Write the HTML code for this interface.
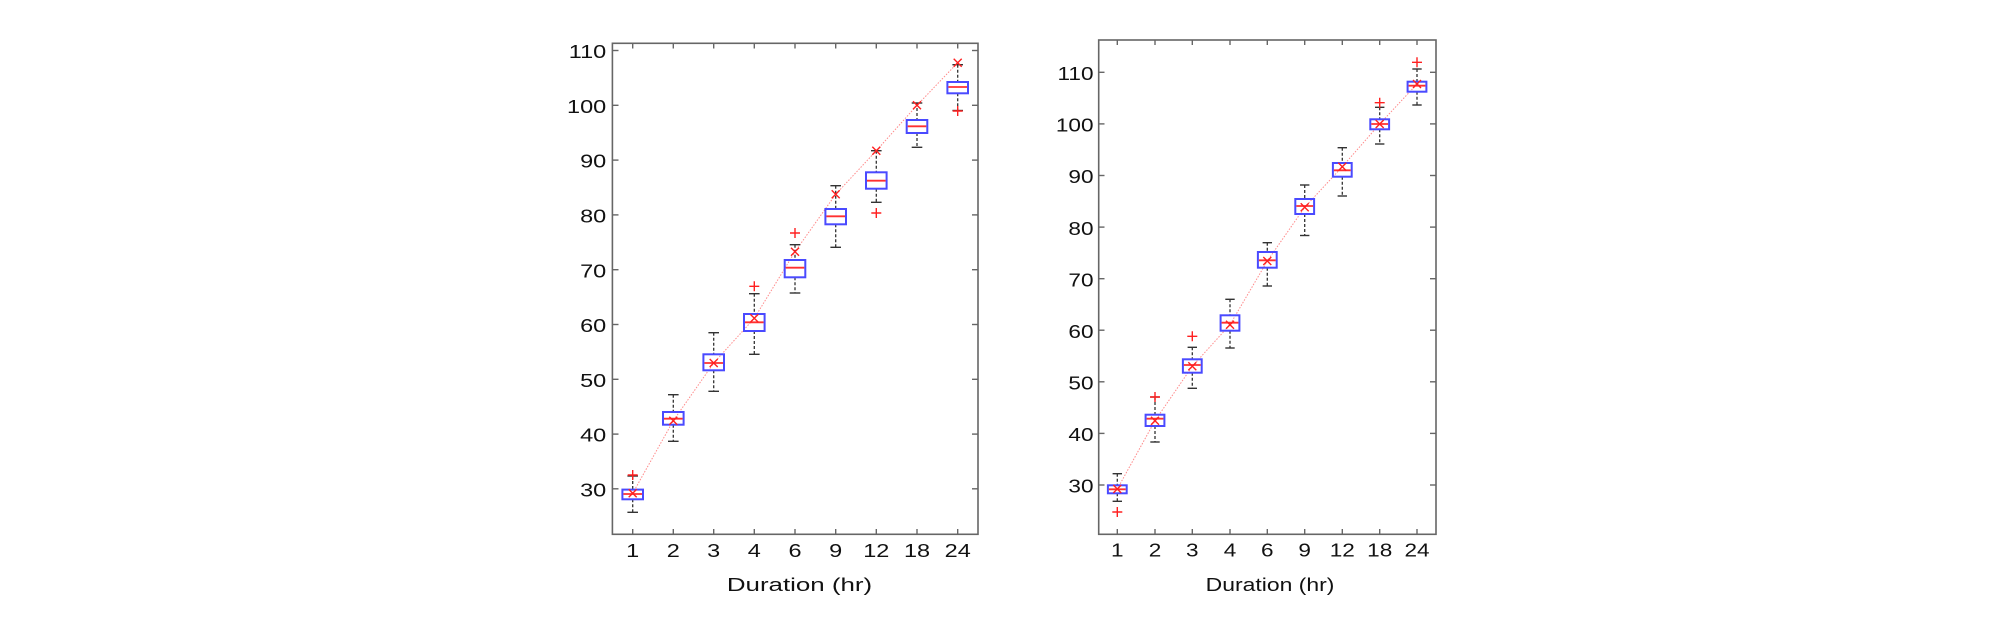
<!DOCTYPE html>
<html><head><meta charset="utf-8"><style>
html,body{margin:0;padding:0;background:#fff;}
svg{display:block;}
text{font-family:"Liberation Sans",Arial,sans-serif;font-size:18.5px;fill:#111;}
.ax{fill:none;stroke:#666;stroke-width:1.6;}
.tk{stroke:#666;stroke-width:1.4;}
.bx{fill:none;stroke:#4a4aff;stroke-width:2;}
.md{stroke:#ff3030;stroke-width:1.8;}
.wh{stroke:#333;stroke-width:1.3;stroke-dasharray:3,2;}
.cp{stroke:#333;stroke-width:1.4;}
.mk{stroke:#ff2020;stroke-width:1.4;fill:none;}
.ln{fill:none;stroke:#ff8a8a;stroke-width:1;stroke-dasharray:1.5,1.5;}
</style></head><body>
<svg width="2008" height="618" viewBox="0 0 2008 618" xmlns="http://www.w3.org/2000/svg">
<rect width="2008" height="618" fill="#fff"/>

<!-- LEFT PLOT -->
<g>
<rect class="ax" x="612.4" y="43.3" width="365.6" height="491"/>
<g class="tk">
<line x1="612.4" y1="50.5" x2="618.5" y2="50.5"/><line x1="978" y1="50.5" x2="972" y2="50.5"/>
<line x1="612.4" y1="105.3" x2="618.5" y2="105.3"/><line x1="978" y1="105.3" x2="972" y2="105.3"/>
<line x1="612.4" y1="160.1" x2="618.5" y2="160.1"/><line x1="978" y1="160.1" x2="972" y2="160.1"/>
<line x1="612.4" y1="214.9" x2="618.5" y2="214.9"/><line x1="978" y1="214.9" x2="972" y2="214.9"/>
<line x1="612.4" y1="269.7" x2="618.5" y2="269.7"/><line x1="978" y1="269.7" x2="972" y2="269.7"/>
<line x1="612.4" y1="324.5" x2="618.5" y2="324.5"/><line x1="978" y1="324.5" x2="972" y2="324.5"/>
<line x1="612.4" y1="379.3" x2="618.5" y2="379.3"/><line x1="978" y1="379.3" x2="972" y2="379.3"/>
<line x1="612.4" y1="434.1" x2="618.5" y2="434.1"/><line x1="978" y1="434.1" x2="972" y2="434.1"/>
<line x1="612.4" y1="488.8" x2="618.5" y2="488.8"/><line x1="978" y1="488.8" x2="972" y2="488.8"/>
<line x1="632.7" y1="534.3" x2="632.7" y2="529"/><line x1="632.7" y1="43.3" x2="632.7" y2="48.5"/>
<line x1="673.3" y1="534.3" x2="673.3" y2="529"/><line x1="673.3" y1="43.3" x2="673.3" y2="48.5"/>
<line x1="713.7" y1="534.3" x2="713.7" y2="529"/><line x1="713.7" y1="43.3" x2="713.7" y2="48.5"/>
<line x1="754.3" y1="534.3" x2="754.3" y2="529"/><line x1="754.3" y1="43.3" x2="754.3" y2="48.5"/>
<line x1="795" y1="534.3" x2="795" y2="529"/><line x1="795" y1="43.3" x2="795" y2="48.5"/>
<line x1="835.7" y1="534.3" x2="835.7" y2="529"/><line x1="835.7" y1="43.3" x2="835.7" y2="48.5"/>
<line x1="876.3" y1="534.3" x2="876.3" y2="529"/><line x1="876.3" y1="43.3" x2="876.3" y2="48.5"/>
<line x1="917" y1="534.3" x2="917" y2="529"/><line x1="917" y1="43.3" x2="917" y2="48.5"/>
<line x1="957.7" y1="534.3" x2="957.7" y2="529"/><line x1="957.7" y1="43.3" x2="957.7" y2="48.5"/>
</g>
<g text-anchor="end">
<text transform="translate(606.2,58.1) scale(1.27,1)">110</text>
<text transform="translate(606.2,112.9) scale(1.27,1)">100</text>
<text transform="translate(606.2,167.7) scale(1.27,1)">90</text>
<text transform="translate(606.2,222.5) scale(1.27,1)">80</text>
<text transform="translate(606.2,277.3) scale(1.27,1)">70</text>
<text transform="translate(606.2,332.1) scale(1.27,1)">60</text>
<text transform="translate(606.2,386.9) scale(1.27,1)">50</text>
<text transform="translate(606.2,441.7) scale(1.27,1)">40</text>
<text transform="translate(606.2,496.4) scale(1.27,1)">30</text>
</g>
<g text-anchor="middle">
<text transform="translate(632.7,557) scale(1.27,1)">1</text>
<text transform="translate(673.3,557) scale(1.27,1)">2</text>
<text transform="translate(713.7,557) scale(1.27,1)">3</text>
<text transform="translate(754.3,557) scale(1.27,1)">4</text>
<text transform="translate(795,557) scale(1.27,1)">6</text>
<text transform="translate(835.7,557) scale(1.27,1)">9</text>
<text transform="translate(876.3,557) scale(1.27,1)">12</text>
<text transform="translate(917,557) scale(1.27,1)">18</text>
<text transform="translate(957.7,557) scale(1.27,1)">24</text>
<text transform="translate(799.5,591) scale(1.4,1)">Duration (hr)</text>
</g>
<polyline class="ln" points="632.7,493.3 673.3,420.7 713.7,363 754.3,318.3 795,251.7 835.7,194.3 876.3,150.7 917,105.3 957.7,62.7"/>
<g class="wh">
<line x1="632.7" y1="476" x2="632.7" y2="489.6"/><line x1="632.7" y1="499.3" x2="632.7" y2="512.3"/>
<line x1="673.3" y1="394.7" x2="673.3" y2="412"/><line x1="673.3" y1="424.7" x2="673.3" y2="441.3"/>
<line x1="713.7" y1="332.7" x2="713.7" y2="354.3"/><line x1="713.7" y1="370.3" x2="713.7" y2="391.3"/>
<line x1="754.3" y1="293.7" x2="754.3" y2="314"/><line x1="754.3" y1="331" x2="754.3" y2="354.3"/>
<line x1="795" y1="244.7" x2="795" y2="260"/><line x1="795" y1="277.3" x2="795" y2="293"/>
<line x1="835.7" y1="185.7" x2="835.7" y2="209"/><line x1="835.7" y1="224.3" x2="835.7" y2="247.3"/>
<line x1="876.3" y1="150.7" x2="876.3" y2="172.3"/><line x1="876.3" y1="188.7" x2="876.3" y2="202.3"/>
<line x1="917" y1="103" x2="917" y2="120"/><line x1="917" y1="133" x2="917" y2="147.3"/>
<line x1="957.7" y1="64.7" x2="957.7" y2="82"/><line x1="957.7" y1="93.3" x2="957.7" y2="110.5"/>
</g>
<g class="cp">
<line x1="627.4" y1="476" x2="638" y2="476"/><line x1="627.4" y1="512.3" x2="638" y2="512.3"/>
<line x1="668" y1="394.7" x2="678.6" y2="394.7"/><line x1="668" y1="441.3" x2="678.6" y2="441.3"/>
<line x1="708.4" y1="332.7" x2="719" y2="332.7"/><line x1="708.4" y1="391.3" x2="719" y2="391.3"/>
<line x1="749" y1="293.7" x2="759.6" y2="293.7"/><line x1="749" y1="354.3" x2="759.6" y2="354.3"/>
<line x1="789.7" y1="244.7" x2="800.3" y2="244.7"/><line x1="789.7" y1="293" x2="800.3" y2="293"/>
<line x1="830.4" y1="185.7" x2="841" y2="185.7"/><line x1="830.4" y1="247.3" x2="841" y2="247.3"/>
<line x1="871" y1="150.7" x2="881.6" y2="150.7"/><line x1="871" y1="202.3" x2="881.6" y2="202.3"/>
<line x1="911.7" y1="103" x2="922.3" y2="103"/><line x1="911.7" y1="147.3" x2="922.3" y2="147.3"/>
<line x1="952.4" y1="64.7" x2="963" y2="64.7"/><line x1="952.4" y1="110.5" x2="963" y2="110.5"/>
</g>
<g class="bx">
<rect x="622.4" y="489.6" width="20.6" height="9.7"/>
<rect x="663" y="412" width="20.6" height="12.7"/>
<rect x="703.4" y="354.3" width="20.6" height="16"/>
<rect x="744" y="314" width="20.6" height="17"/>
<rect x="784.7" y="260" width="20.6" height="17.3"/>
<rect x="825.4" y="209" width="20.6" height="15.3"/>
<rect x="866" y="172.3" width="20.6" height="16.4"/>
<rect x="906.7" y="120" width="20.6" height="13"/>
<rect x="947.4" y="82" width="20.6" height="11.3"/>
</g>
<g class="md">
<line x1="623.4" y1="494" x2="642" y2="494"/>
<line x1="664" y1="418.7" x2="682.6" y2="418.7"/>
<line x1="704.4" y1="363" x2="723" y2="363"/>
<line x1="745" y1="322.3" x2="763.6" y2="322.3"/>
<line x1="785.7" y1="267.7" x2="804.3" y2="267.7"/>
<line x1="826.4" y1="216.3" x2="845" y2="216.3"/>
<line x1="867" y1="180.7" x2="885.6" y2="180.7"/>
<line x1="907.7" y1="126.3" x2="926.3" y2="126.3"/>
<line x1="948.4" y1="87" x2="967" y2="87"/>
</g>
<path class="mk" d="M628.7,489.3l8,8m-8,0l8,-8 M669.3,416.7l8,8m-8,0l8,-8 M709.7,359l8,8m-8,0l8,-8 M750.3,314.3l8,8m-8,0l8,-8 M791,247.7l8,8m-8,0l8,-8 M831.7,190.3l8,8m-8,0l8,-8 M872.3,146.7l8,8m-8,0l8,-8 M913,101.3l8,8m-8,0l8,-8 M953.7,58.7l8,8m-8,0l8,-8"/>
<path class="mk" d="M627.7,475h10m-5,-5v10 M749.3,286.3h10m-5,-5v10 M790,233h10m-5,-5v10 M871.3,213h10m-5,-5v10 M952.7,111h10m-5,-5v10"/>
</g>

<!-- RIGHT PLOT -->
<g>
<rect class="ax" x="1098.7" y="40" width="337.3" height="494.3"/>
<g class="tk">
<line x1="1098.7" y1="72.3" x2="1104.5" y2="72.3"/><line x1="1436" y1="72.3" x2="1430" y2="72.3"/>
<line x1="1098.7" y1="123.9" x2="1104.5" y2="123.9"/><line x1="1436" y1="123.9" x2="1430" y2="123.9"/>
<line x1="1098.7" y1="175.5" x2="1104.5" y2="175.5"/><line x1="1436" y1="175.5" x2="1430" y2="175.5"/>
<line x1="1098.7" y1="227.1" x2="1104.5" y2="227.1"/><line x1="1436" y1="227.1" x2="1430" y2="227.1"/>
<line x1="1098.7" y1="278.7" x2="1104.5" y2="278.7"/><line x1="1436" y1="278.7" x2="1430" y2="278.7"/>
<line x1="1098.7" y1="330.2" x2="1104.5" y2="330.2"/><line x1="1436" y1="330.2" x2="1430" y2="330.2"/>
<line x1="1098.7" y1="381.8" x2="1104.5" y2="381.8"/><line x1="1436" y1="381.8" x2="1430" y2="381.8"/>
<line x1="1098.7" y1="433.4" x2="1104.5" y2="433.4"/><line x1="1436" y1="433.4" x2="1430" y2="433.4"/>
<line x1="1098.7" y1="485" x2="1104.5" y2="485"/><line x1="1436" y1="485" x2="1430" y2="485"/>
<line x1="1117.3" y1="534.3" x2="1117.3" y2="529"/><line x1="1117.3" y1="40" x2="1117.3" y2="45"/>
<line x1="1155" y1="534.3" x2="1155" y2="529"/><line x1="1155" y1="40" x2="1155" y2="45"/>
<line x1="1192.3" y1="534.3" x2="1192.3" y2="529"/><line x1="1192.3" y1="40" x2="1192.3" y2="45"/>
<line x1="1230" y1="534.3" x2="1230" y2="529"/><line x1="1230" y1="40" x2="1230" y2="45"/>
<line x1="1267.3" y1="534.3" x2="1267.3" y2="529"/><line x1="1267.3" y1="40" x2="1267.3" y2="45"/>
<line x1="1304.7" y1="534.3" x2="1304.7" y2="529"/><line x1="1304.7" y1="40" x2="1304.7" y2="45"/>
<line x1="1342.3" y1="534.3" x2="1342.3" y2="529"/><line x1="1342.3" y1="40" x2="1342.3" y2="45"/>
<line x1="1379.7" y1="534.3" x2="1379.7" y2="529"/><line x1="1379.7" y1="40" x2="1379.7" y2="45"/>
<line x1="1417" y1="534.3" x2="1417" y2="529"/><line x1="1417" y1="40" x2="1417" y2="45"/>
</g>
<g text-anchor="end">
<text transform="translate(1093.5,80) scale(1.22,1)">110</text>
<text transform="translate(1093.5,131.6) scale(1.22,1)">100</text>
<text transform="translate(1093.5,183.2) scale(1.22,1)">90</text>
<text transform="translate(1093.5,234.8) scale(1.22,1)">80</text>
<text transform="translate(1093.5,286.4) scale(1.22,1)">70</text>
<text transform="translate(1093.5,337.9) scale(1.22,1)">60</text>
<text transform="translate(1093.5,389.5) scale(1.22,1)">50</text>
<text transform="translate(1093.5,441.1) scale(1.22,1)">40</text>
<text transform="translate(1093.5,492.7) scale(1.22,1)">30</text>
</g>
<g text-anchor="middle">
<text transform="translate(1117.3,556.5) scale(1.22,1)">1</text>
<text transform="translate(1155,556.5) scale(1.22,1)">2</text>
<text transform="translate(1192.3,556.5) scale(1.22,1)">3</text>
<text transform="translate(1230,556.5) scale(1.22,1)">4</text>
<text transform="translate(1267.3,556.5) scale(1.22,1)">6</text>
<text transform="translate(1304.7,556.5) scale(1.22,1)">9</text>
<text transform="translate(1342.3,556.5) scale(1.22,1)">12</text>
<text transform="translate(1379.7,556.5) scale(1.22,1)">18</text>
<text transform="translate(1417,556.5) scale(1.22,1)">24</text>
<text transform="translate(1270,591) scale(1.24,1)">Duration (hr)</text>
</g>
<polyline class="ln" points="1117.3,489 1155,420.7 1192.3,366.3 1230,324.7 1267.3,261 1304.7,207.3 1342.3,166.7 1379.7,124 1417,84"/>
<g class="wh">
<line x1="1117.3" y1="473.7" x2="1117.3" y2="485.3"/><line x1="1117.3" y1="493.3" x2="1117.3" y2="501.3"/>
<line x1="1155" y1="397" x2="1155" y2="414.7"/><line x1="1155" y1="426" x2="1155" y2="442"/>
<line x1="1192.3" y1="347.3" x2="1192.3" y2="359.3"/><line x1="1192.3" y1="372.7" x2="1192.3" y2="388.3"/>
<line x1="1230" y1="299.3" x2="1230" y2="315.3"/><line x1="1230" y1="330.7" x2="1230" y2="348"/>
<line x1="1267.3" y1="242.7" x2="1267.3" y2="252"/><line x1="1267.3" y1="267.7" x2="1267.3" y2="286"/>
<line x1="1304.7" y1="185" x2="1304.7" y2="199"/><line x1="1304.7" y1="214" x2="1304.7" y2="235.5"/>
<line x1="1342.3" y1="147.7" x2="1342.3" y2="163"/><line x1="1342.3" y1="176.7" x2="1342.3" y2="196"/>
<line x1="1379.7" y1="107.3" x2="1379.7" y2="119.3"/><line x1="1379.7" y1="129.3" x2="1379.7" y2="144"/>
<line x1="1417" y1="69" x2="1417" y2="81.7"/><line x1="1417" y1="91.7" x2="1417" y2="105"/>
</g>
<g class="cp">
<line x1="1112.6" y1="473.7" x2="1122" y2="473.7"/><line x1="1112.6" y1="501.3" x2="1122" y2="501.3"/>
<line x1="1150.3" y1="397" x2="1159.7" y2="397"/><line x1="1150.3" y1="442" x2="1159.7" y2="442"/>
<line x1="1187.6" y1="347.3" x2="1197" y2="347.3"/><line x1="1187.6" y1="388.3" x2="1197" y2="388.3"/>
<line x1="1225.3" y1="299.3" x2="1234.7" y2="299.3"/><line x1="1225.3" y1="348" x2="1234.7" y2="348"/>
<line x1="1262.6" y1="242.7" x2="1272" y2="242.7"/><line x1="1262.6" y1="286" x2="1272" y2="286"/>
<line x1="1300" y1="185" x2="1309.4" y2="185"/><line x1="1300" y1="235.5" x2="1309.4" y2="235.5"/>
<line x1="1337.6" y1="147.7" x2="1347" y2="147.7"/><line x1="1337.6" y1="196" x2="1347" y2="196"/>
<line x1="1375" y1="107.3" x2="1384.4" y2="107.3"/><line x1="1375" y1="144" x2="1384.4" y2="144"/>
<line x1="1412.3" y1="69" x2="1421.7" y2="69"/><line x1="1412.3" y1="105" x2="1421.7" y2="105"/>
</g>
<g class="bx">
<rect x="1107.9" y="485.3" width="18.8" height="8"/>
<rect x="1145.6" y="414.7" width="18.8" height="11.3"/>
<rect x="1182.9" y="359.3" width="18.8" height="13.4"/>
<rect x="1220.6" y="315.3" width="18.8" height="15.4"/>
<rect x="1257.9" y="252" width="18.8" height="15.7"/>
<rect x="1295.3" y="199" width="18.8" height="15"/>
<rect x="1332.9" y="163" width="18.8" height="13.7"/>
<rect x="1370.3" y="119.3" width="18.8" height="10"/>
<rect x="1407.6" y="81.7" width="18.8" height="10"/>
</g>
<g class="md">
<line x1="1108.9" y1="489.3" x2="1125.7" y2="489.3"/>
<line x1="1146.6" y1="418.7" x2="1163.4" y2="418.7"/>
<line x1="1183.9" y1="365" x2="1200.7" y2="365"/>
<line x1="1221.6" y1="322.7" x2="1238.4" y2="322.7"/>
<line x1="1258.9" y1="260.3" x2="1275.7" y2="260.3"/>
<line x1="1296.3" y1="206" x2="1313.1" y2="206"/>
<line x1="1333.9" y1="170.3" x2="1350.7" y2="170.3"/>
<line x1="1371.3" y1="124" x2="1388.1" y2="124"/>
<line x1="1408.6" y1="85.7" x2="1425.4" y2="85.7"/>
</g>
<path class="mk" d="M1113.3,485l8,8m-8,0l8,-8 M1151,416.7l8,8m-8,0l8,-8 M1188.3,362.3l8,8m-8,0l8,-8 M1226,320.7l8,8m-8,0l8,-8 M1263.3,257l8,8m-8,0l8,-8 M1300.7,203.3l8,8m-8,0l8,-8 M1338.3,162.7l8,8m-8,0l8,-8 M1375.7,120l8,8m-8,0l8,-8 M1413,80l8,8m-8,0l8,-8"/>
<path class="mk" d="M1112.3,512h10m-5,-5v10 M1150,397h10m-5,-5v10 M1187.3,336.3h10m-5,-5v10 M1374.7,102.7h10m-5,-5v10 M1412,62.3h10m-5,-5v10"/>
</g>
</svg>
</body></html>
